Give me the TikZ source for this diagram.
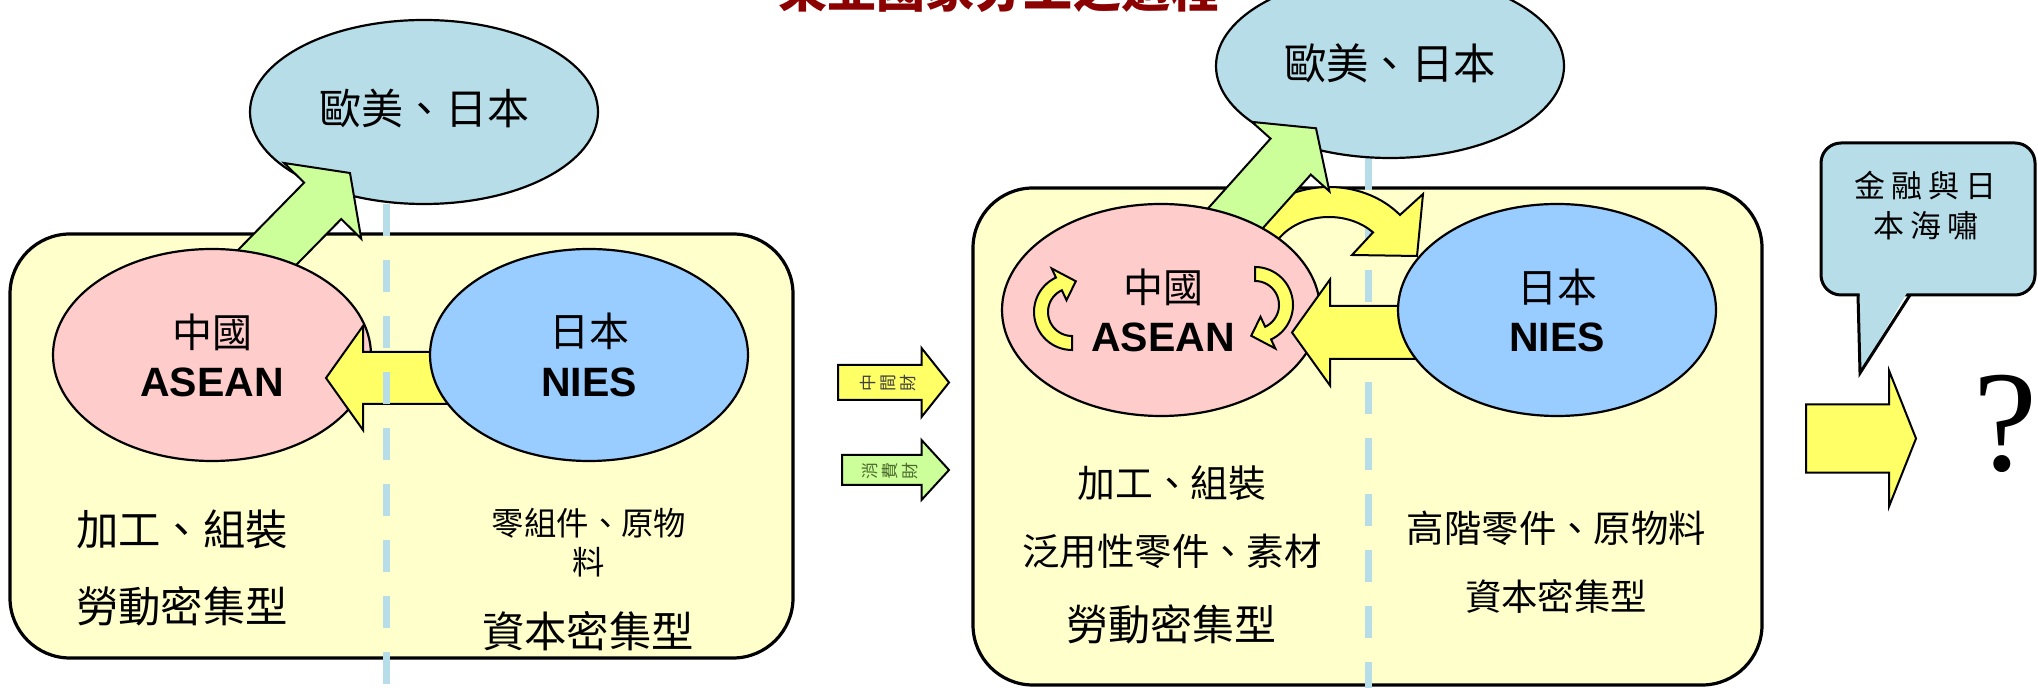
\documentclass[tikz,border=0pt]{standalone}
\usepackage{fontspec}
\setmainfont{Liberation Sans}
\newfontfamily\cjk{Noto Sans CJK TC}
\newfontfamily\qserif{Liberation Serif}
\usetikzlibrary{calc,shapes.geometric}
\definecolor{panelY}{HTML}{FFFFCC}
\definecolor{pinkC}{HTML}{FFCCCC}
\definecolor{blueC}{HTML}{99CCFF}
\definecolor{tealC}{HTML}{B7DEE8}
\definecolor{yelC}{HTML}{FFFF66}
\definecolor{grnC}{HTML}{CCFF99}
\definecolor{titleC}{HTML}{8B0000}
\definecolor{olivetext}{HTML}{4E6B2E}
% block arrow: #1 style, #2 start, #3 tip, #4 shaft half width, #5 head half width, #6 head length
\newcommand{\blockarrow}[6]{%
  \coordinate (ba-base) at ($(#3)!#6!(#2)$);
  \draw[#1] ($(#2)!#4!90:(#3)$) -- ($(ba-base)!#4!90:(#3)$) -- ($(ba-base)!#5!90:(#3)$)
    -- (#3) -- ($(ba-base)!#5!-90:(#3)$) -- ($(ba-base)!#4!-90:(#3)$) -- ($(#2)!#4!-90:(#3)$) -- cycle;}
% circular arrow: cx, cy, start angle, end angle, tip angle
\newcommand{\circarrow}[5]{%
  \draw[yarrow] plot[domain=#3:#4, samples=30] ({#1+38*cos(\x)},{#2-38*sin(\x)})
    -- ({#1+48*cos(#4)},{#2-48*sin(#4)}) -- ({#1+31*cos(#5)},{#2-31*sin(#5)})
    -- ({#1+13*cos(#4)},{#2-13*sin(#4)})
    -- plot[domain=#4:#3, samples=30] ({#1+24*cos(\x)},{#2-24*sin(\x)}) -- cycle;}
\begin{document}
\begin{tikzpicture}[x=0.5pt,y=-0.5pt,
  panel/.style={draw=black, line width=1.6pt, fill=panelY, rounded corners=30pt, inner sep=0, outer sep=0},
  oval/.style={ellipse, draw=black, line width=1.1pt, inner sep=0, outer sep=0},
  yarrow/.style={draw=black, line width=1pt, fill=yelC, line join=miter},
  garrow/.style={draw=black, line width=1pt, fill=grnC, line join=miter},
  dashline/.style={draw=tealC, line width=3.5pt, dash pattern=on 16pt off 12pt},
  ct/.style={font=\cjk\fontsize{#1}{#1}\selectfont, inner sep=0},
  lat/.style={font=\bfseries\fontsize{20.5}{24}\selectfont, inner sep=0}]
\useasboundingbox (0,0) rectangle (2038,688);
\fill[white] (0,0) rectangle (2038,688);

% title (cut at top)
\node[anchor=base, inner sep=0, text=titleC, font=\cjk\bfseries\fontsize{24.5}{28}\selectfont] (title) at (999,8) {東亞國家分工之過程};

% ---------------- left panel ----------------
\node[panel, minimum width=391.5pt, minimum height=212pt] (panelL) at (401.5,446) {};
\node[oval, fill=tealC, minimum width=174pt, minimum height=92pt] (euL) at (424,112) {};
\node[ct=21] (euLt) at (424,109) {歐美、日本};
\coordinate (gLs) at (245,280); \coordinate (gLt) at (350,173);
\blockarrow{garrow}{gLs}{gLt}{13pt}{27pt}{19.5pt}
\node[oval, fill=pinkC, minimum width=159pt, minimum height=106pt] (cnL) at (212,355) {};
\coordinate (yLs) at (470,378); \coordinate (yLt) at (326,378);
\blockarrow{yarrow}{yLs}{yLt}{13pt}{26pt}{18.5pt}
\node[oval, fill=blueC, minimum width=159pt, minimum height=106pt] (jpL) at (589,355) {};
\coordinate (dL1) at (386,204); \coordinate (dL2) at (386,688);
\draw[dashline] (dL1) -- (dL2);
\node[ct=20] (cnLa) at (212,332) {中國};
\node[lat] (cnLb) at (212,382) {ASEAN};
\node[ct=20] (jpLa) at (589,331) {日本};
\node[lat] (jpLb) at (589,382) {NIES};
\node[ct=21.2] (tL1) at (182,529) {加工、組裝};
\node[ct=21.2] (tL2) at (182,606) {勞動密集型};
\node[ct=16.2] (tL3) at (589,523) {零組件、原物};
\node[ct=16.2] (tL4) at (589,562) {料};
\node[ct=21.2] (tL5) at (588,631) {資本密集型};

% ---------------- small arrows ----------------
\coordinate (sYs) at (838,382.5); \coordinate (sYt) at (949,382.5);
\blockarrow{yarrow}{sYs}{sYt}{8.75pt}{17.25pt}{13.75pt}
\node[rotate=90, align=center, inner sep=0, text=black!75, font=\cjk\fontsize{8.5}{10}\selectfont] (midg) at (888,383) {中\\間\\財};
\coordinate (sGs) at (842,470); \coordinate (sGt) at (949,470);
\blockarrow{garrow}{sGs}{sGt}{7.5pt}{15pt}{13.75pt}
\node[rotate=90, align=center, inner sep=0, text=olivetext, font=\cjk\fontsize{8.5}{10}\selectfont] (cong) at (890,471) {消\\費\\財};

% ---------------- right panel ----------------
\node[panel, minimum width=394.5pt, minimum height=248.5pt] (panelR) at (1367.5,436.5) {};
\coordinate (dR1) at (1368,158); \coordinate (dR2) at (1368,688);
\draw[dashline] (dR1) -- (dR2);
\node[oval, fill=tealC, minimum width=174pt, minimum height=92pt] (euR) at (1390,66) {};
\node[ct=21.2] (euRt) at (1390,63) {歐美、日本};
% curved arrow from China/ASEAN over to Japan/NIES
\draw[yarrow] plot[domain=165:39.9, samples=40] ({1329+92.5*cos(\x)},{265-78*sin(\x)})
  -- (1423,194) -- (1417,256) -- (1352,255)
  -- plot[domain=42.8:165, samples=40] ({1329+60*cos(\x)},{265-48*sin(\x)}) -- cycle;
\coordinate (gRs) at (1216,240); \coordinate (gRt) at (1316,128.3);
\blockarrow{garrow}{gRs}{gRt}{13.5pt}{26pt}{19pt}
\node[oval, fill=pinkC, minimum width=159pt, minimum height=106pt] (cnR) at (1161,310) {};
\coordinate (yRs) at (1450,332.5); \coordinate (yRt) at (1292,332.5);
\blockarrow{yarrow}{yRs}{yRt}{13.25pt}{26.5pt}{19pt}
\node[oval, fill=blueC, minimum width=159pt, minimum height=106pt] (jpR) at (1557,310) {};
\circarrow{1072}{312}{270}{115}{83}
\circarrow{1255}{305}{90}{-65}{-97}
\node[ct=20] (cnRa) at (1163,287) {中國};
\node[lat] (cnRb) at (1163,337.5) {ASEAN};
\node[ct=20] (jpRa) at (1557,287.5) {日本};
\node[lat] (jpRb) at (1557,337) {NIES};
\node[ct=18.9] (tR1) at (1172,483) {加工、組裝};
\node[ct=18.7] (tR2) at (1172,551) {泛用性零件、素材};
\node[ct=21] (tR3) at (1171,624) {勞動密集型};
\node[ct=18.7] (tR4) at (1556.5,528.5) {高階零件、原物料};
\node[ct=18.2] (tR5) at (1556,596) {資本密集型};

% ---------------- callout, arrow, question ----------------
\node[draw=black, line width=1.5pt, fill=tealC, rounded corners=10pt, minimum width=107pt, minimum height=76pt, inner sep=0] (call) at (1928,219) {};
\coordinate (tailA) at (1858,295); \coordinate (tailB) at (1910,295); \coordinate (tailT) at (1860,373);
\fill[tealC] (1859.5,291) -- (1908,291) -- (tailT) -- cycle;
\draw[line width=1.5pt, line join=miter] (tailA) -- (tailT) -- (tailB);
\node[ct=15.5] (cl1) at (1925,186) {金\hspace{3pt}融\hspace{3pt}與\hspace{3pt}日};
\node[ct=15.5] (cl2) at (1926,226) {本\hspace{3pt}海\hspace{3pt}嘯};
\coordinate (bYs) at (1806,438.5); \coordinate (bYt) at (1916,438.5);
\blockarrow{yarrow}{bYs}{bYt}{17.1pt}{34pt}{13.5pt}
\node[inner sep=0, font=\qserif\fontsize{72}{76}\selectfont] (qm) at (2005,424) {?};
\end{tikzpicture}
\end{document}
